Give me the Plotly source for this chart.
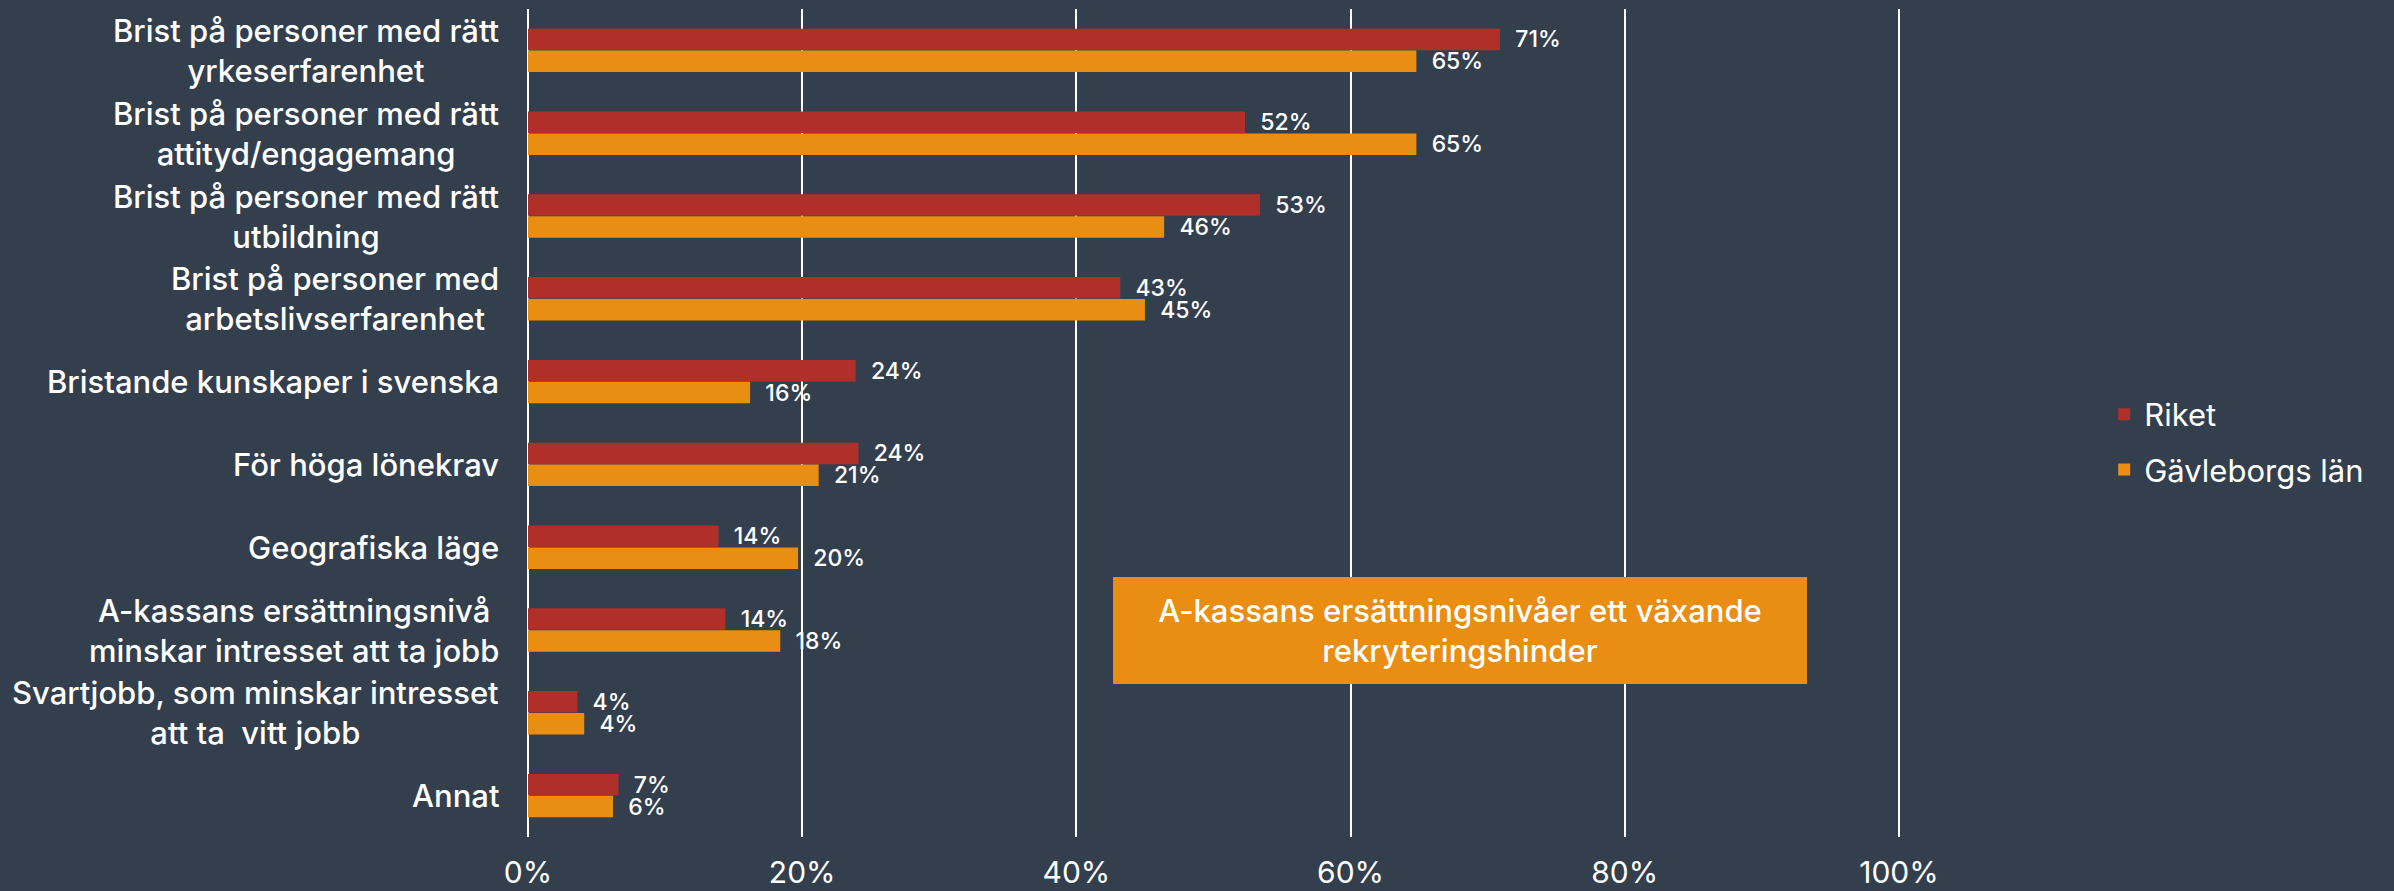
import plotly.graph_objects as go

categories = [
    "Brist på personer med rätt<br>yrkeserfarenhet",
    "Brist på personer med rätt<br>attityd/engagemang",
    "Brist på personer med rätt<br>utbildning",
    "Brist på personer med<br>arbetslivserfarenhet",
    "Bristande kunskaper i svenska",
    "För höga lönekrav",
    "Geografiska läge",
    "A-kassans ersättningsnivå<br>minskar intresset att ta jobb",
    "Svartjobb, som minskar intresset<br>att ta  vitt jobb",
    "Annat",
]
riket = [70.9, 52.3, 53.4, 43.2, 23.9, 24.1, 13.9, 14.4, 3.6, 6.6]
gavleborg = [64.8, 64.8, 46.4, 45.0, 16.2, 21.2, 19.7, 18.4, 4.1, 6.2]
series_names = ["Riket", "Gävleborgs län"]
tick_vals = [0, 20, 40, 60, 80, 100]
tick_text = ["0%", "20%", "40%", "60%", "80%", "100%"]
callout_text = "A-kassans ersättningsnivåer ett växande<br>rekryteringshinder"

BG = "#343F4E"
RED = "#B02F29"
ORANGE = "#E98E13"
FONT = "Inter, Open Sans, Liberation Sans, sans-serif"

fig = go.Figure()
for name, vals, col in [(series_names[0], riket, RED), (series_names[1], gavleborg, ORANGE)]:
    fig.add_trace(go.Bar(
        y=categories, x=vals, orientation="h", name=name,
        marker=dict(color=col, line=dict(width=0)),
        texttemplate="\u00a0\u00a0%{x:.0f}%", textposition="outside",
        textfont=dict(color="white", size=23, family=FONT, weight=500),
        constraintext="none", cliponaxis=False, legendgroup=name,
    ))

# category labels (centered lines)
for c in categories:
    fig.add_annotation(
        x=-0.02, xref="paper", y=c, yref="y", text=c, showarrow=False,
        xanchor="right", yanchor="middle", align="center",
        font=dict(color="white", size=31, family=FONT, weight=500),
    )

fig.add_annotation(
    x=68.0, xref="x", y=categories[7], yref="y", text=callout_text,
    showarrow=False, xanchor="center", yanchor="middle", align="center",
    width=694, height=107, bgcolor=ORANGE, borderpad=0, borderwidth=0,
    font=dict(color="white", size=31, family=FONT, weight=500),
)

fig.update_layout(
    width=2394, height=891,
    paper_bgcolor=BG, plot_bgcolor=BG,
    margin=dict(l=528, r=493, t=9, b=54, autoexpand=False),
    barmode="group", bargap=0.47, bargroupgap=0.02,
    font=dict(family=FONT, color="white"),
    showlegend=True,
    legend=dict(
        x=1.148, xanchor="left", y=0.477, yanchor="middle",
        font=dict(size=31, color="white", family=FONT),
        bgcolor="rgba(0,0,0,0)", tracegroupgap=12, traceorder="grouped",
    ),
    xaxis=dict(
        range=[0, 100.15], tickvals=tick_vals, ticktext=tick_text,
        showgrid=True, gridcolor="white", gridwidth=2,
        zeroline=True, zerolinecolor="white", zerolinewidth=2,
        showline=False, ticks="", ticklabelstandoff=15, automargin=False,
        tickfont=dict(size=30, color="white", family=FONT),
        fixedrange=True,
    ),
    yaxis=dict(
        autorange="reversed", showgrid=False, showticklabels=False,
        ticks="", showline=False, zeroline=False, automargin=False,
        fixedrange=True,
    ),
)

fig.write_html(
    "out.html",
    config={"displayModeBar": False},
    post_script="document.body.style.margin='0';document.body.style.background='#343F4E';",
)
